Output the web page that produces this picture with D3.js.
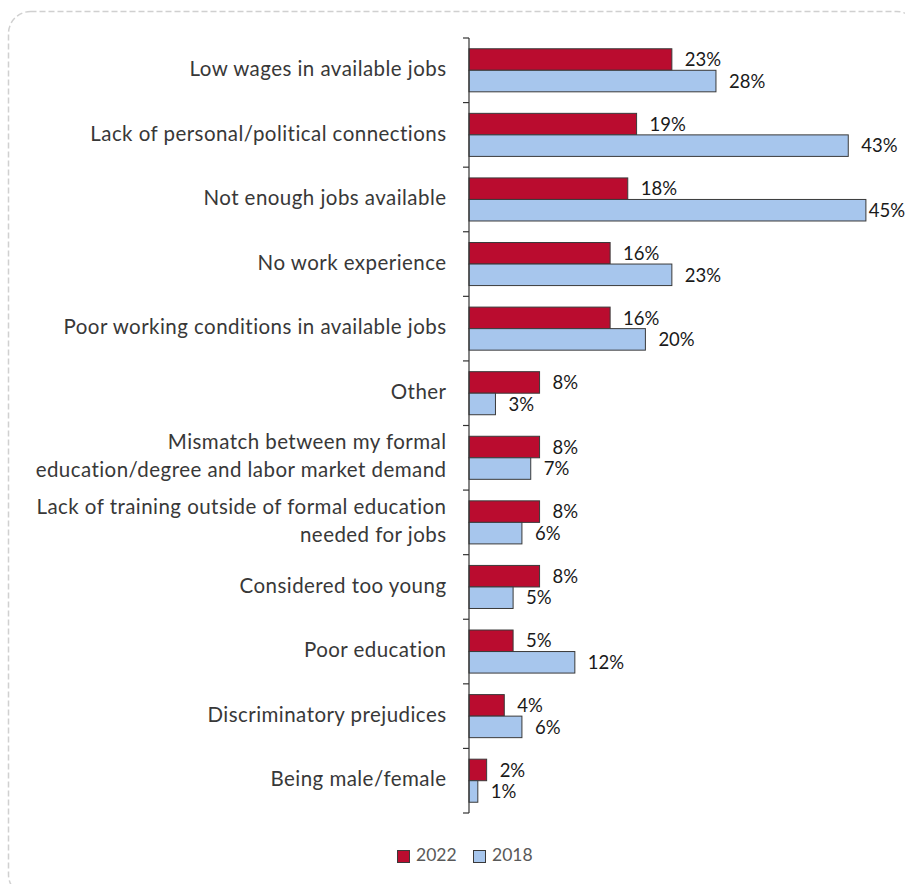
<!DOCTYPE html>
<html>
<head>
<meta charset="utf-8">
<script src="https://cdn.jsdelivr.net/npm/d3@7"></script>
<style>
  html, body { margin: 0; padding: 0; background: #fff; }
  svg { display: block; }
</style>
</head>
<body>
<svg id="chart" width="905" height="884"></svg>
<script>
// Reasons for difficulty finding work, share of respondents (%)
const categories = [
  ["Low wages in available jobs"],
  ["Lack of personal/political connections"],
  ["Not enough jobs available"],
  ["No work experience"],
  ["Poor working conditions in available jobs"],
  ["Other"],
  ["Mismatch between my formal", "education/degree and labor market demand"],
  ["Lack of training outside of formal education", "needed for jobs"],
  ["Considered too young"],
  ["Poor education"],
  ["Discriminatory prejudices"],
  ["Being male/female"]
];
const values2022 = [23, 19, 18, 16, 16, 8, 8, 8, 8, 5, 4, 2];
const values2018 = [28, 43, 45, 23, 20, 3, 7, 6, 5, 12, 6, 1];
const seriesNames = ["2022", "2018"];
const seriesColors = ["#BA0C2F", "#A7C6ED"];

const W = 905;
const svg = d3.select("#chart");
const font = "Lato, 'Open Sans', sans-serif";

// frame
svg.append("rect")
  .attr("x", 8.5).attr("y", 11.5)
  .attr("width", 910).attr("height", 885)
  .attr("rx", 22).attr("ry", 22)
  .attr("fill", "none")
  .attr("stroke", "#d0d0d0")
  .attr("stroke-width", 1.5)
  .attr("stroke-dasharray", "6,3");

const keys = categories.map((c, i) => i);
const y = d3.scaleBand().domain(keys).range([38, 813]).padding(0);
const ySeries = d3.scaleBand().domain(seriesNames).range([0, y.bandwidth()])
  .paddingInner(0).paddingOuter(0.5);
const x = d3.scaleLinear().domain([0, 50]).range([469, 910]);

const rows = keys.map(i => ({ i, vals: [values2022[i], values2018[i]] }));

// bars and value labels
const g = svg.append("g");
rows.forEach(r => {
  r.vals.forEach((v, s) => {
    const yy = y(r.i) + ySeries(seriesNames[s]);
    g.append("rect")
      .attr("x", x(0))
      .attr("y", yy)
      .attr("width", x(v) - x(0))
      .attr("height", ySeries.bandwidth())
      .attr("fill", seriesColors[s])
      .attr("stroke", "#3a3a3a")
      .attr("stroke-width", 1);
    const t = g.append("text")
      .attr("x", x(v) + 13)
      .attr("y", yy + ySeries.bandwidth() / 2 + 6.7)
      .attr("font-family", font)
      .attr("font-size", 18.5)
      .attr("fill", "#1a1a1a")
      .text(v + "%");
    // keep labels inside the canvas
    const tw = t.node().getComputedTextLength();
    if (x(v) + 13 + tw > W) t.attr("x", W - tw);
  });
});

// category axis
const axis = svg.append("g").attr("transform", `translate(${x(0)},0)`);
axis.append("path")
  .attr("d", `M0,${y.range()[0]}V${y.range()[1]}`)
  .attr("stroke", "#333").attr("stroke-width", 1.2).attr("fill", "none");
const boundaries = keys.map(i => y(i)).concat([y.range()[1]]);
axis.selectAll("line.sep").data(boundaries).join("line")
  .attr("class", "sep")
  .attr("x1", -6).attr("x2", 0)
  .attr("y1", d => d).attr("y2", d => d)
  .attr("stroke", "#333").attr("stroke-width", 1.2);

// category labels
const labels = svg.append("g");
rows.forEach(r => {
  const lines = categories[r.i];
  const cy = y(r.i) + y.bandwidth() / 2;
  const lh = 28;
  lines.forEach((ln, k) => {
    labels.append("text")
      .attr("x", 446.5)
      .attr("y", cy + (k - (lines.length - 1) / 2) * lh + 5.7)
      .attr("text-anchor", "end")
      .attr("font-family", font)
      .attr("font-size", 20.5)
      .attr("letter-spacing", 0.45)
      .attr("fill", "#383838")
      .text(ln);
  });
});

// legend
const leg = svg.append("g");
const legX = [397, 473];
seriesNames.forEach((n, s) => {
  leg.append("rect")
    .attr("x", legX[s] + 0.5).attr("y", 850.5)
    .attr("width", 12).attr("height", 12)
    .attr("fill", seriesColors[s])
    .attr("stroke", "#3a3a3a").attr("stroke-width", 1);
  leg.append("text")
    .attr("x", legX[s] + 19).attr("y", 861)
    .attr("font-family", font)
    .attr("font-size", 17.5)
    .attr("fill", "#595959")
    .text(n);
});
</script>
</body>
</html>
